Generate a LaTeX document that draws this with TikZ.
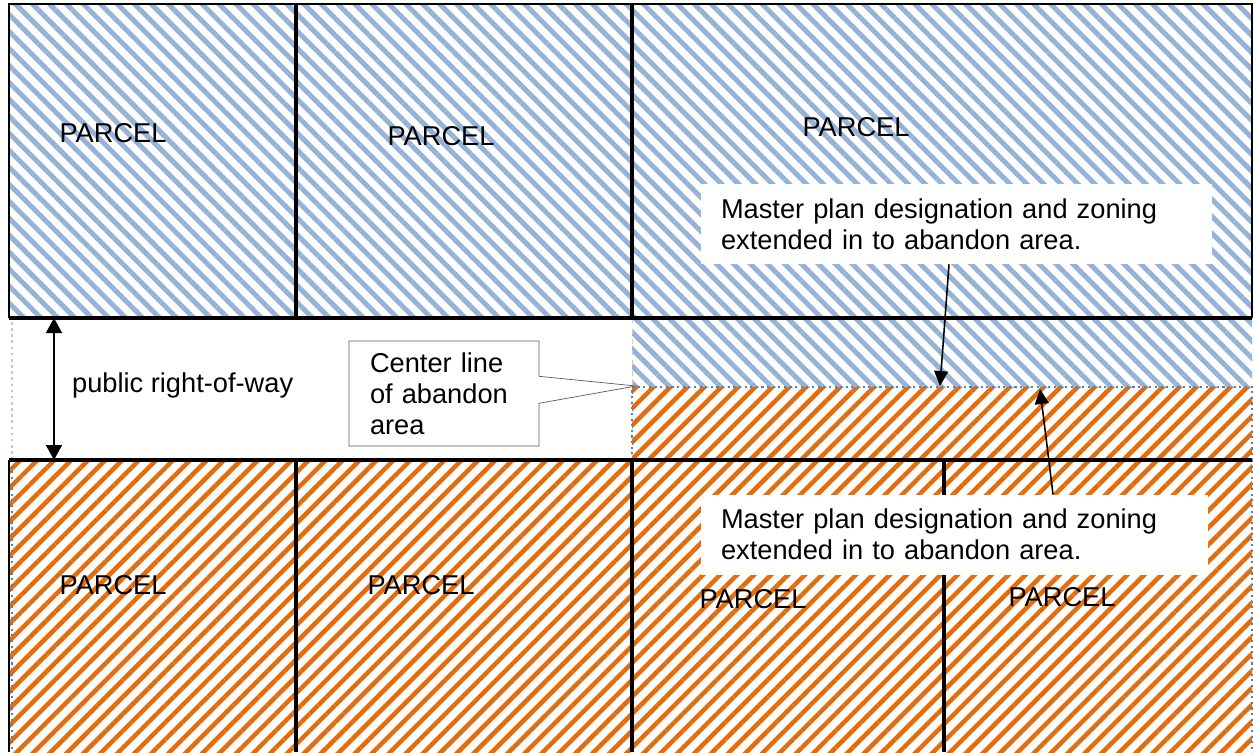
\documentclass[tikz,border=0pt]{standalone}
\usepackage{fontspec}
\setmainfont{Liberation Sans}
\usetikzlibrary{positioning,patterns.meta,shapes.callouts,arrows.meta}

\definecolor{zoneblue}{RGB}{149,179,215}
\definecolor{zoneorange}{RGB}{228,108,10}
\definecolor{dotblue}{RGB}{79,129,189}
\definecolor{calloutgray}{RGB}{90,90,90}
\newcommand{\plantext}{\fontsize{15.5pt}{17.6pt}\selectfont}

\begin{document}
\begin{tikzpicture}[x=0.02cm, y=-0.02cm,
    bluezone/.style={pattern={Lines[angle=-45,distance=0.24cm,line width=0.1cm]}, pattern color=zoneblue},
    orangezone/.style={pattern={Lines[angle=45,distance=0.24cm,line width=0.09cm]}, pattern color=zoneorange},
    lotline/.style={line width=2.2pt},
    edgeline/.style={line width=0.9pt},
    dotline/.style={dotted, line width=1.2pt, dotblue},
    parcel/.style={font=\plantext},
    note/.style={fill=white, font=\plantext, align=left, inner xsep=0.4cm, minimum height=1.6cm, text width=9.42cm},
    callnote/.style={rectangle callout, draw=calloutgray, fill=white, font=\plantext, align=left, inner xsep=0.42cm, minimum width=3.8cm, minimum height=2.1cm, text width=2.96cm, callout pointer width=0.54cm},
    pointer/.style={line width=0.9pt, -{Triangle[length=0.3cm, width=0.28cm]}}
  ]
    \useasboundingbox (0,0) rectangle (1254,752);

    % Zoned areas
    \fill[bluezone] (9,4) rectangle (1252,318);
    \fill[bluezone] (632,318) rectangle (1252,387);
    \fill[orangezone] (632,387) rectangle (1252,460);
    \fill[orangezone] (9,460) rectangle (1252,752);

    % Abandon area edges
    \draw[dotline] (632,460) -- (632,387) -- (1252,387) -- (1252,460);
    \draw[dotline] (12,460) -- (12,752);
    \draw[dotline] (1252,460) -- (1252,752);
    \draw[gray!45, dotted, line width=1.5pt] (12,322) -- (12,458);
    \draw[gray!40, dashed, thin] (632,318) -- (632,387);

    % Lot lines
    \draw[edgeline] (9,318) -- (9,4) -- (1252,4) -- (1252,318);
    \draw[edgeline] (9,460) -- (9,752);
    \draw[lotline] (9,318) -- (1252,318);
    \draw[lotline] (9,460) -- (1252,460);
    \foreach \x in {296,632} \draw[lotline] (\x,4) -- (\x,318);
    \foreach \x in {296,632,944} \draw[lotline] (\x,460) -- (\x,752);

    % Parcels
    \node[parcel] (lotNA) at (113,133) {PARCEL};
    \node[parcel] (lotNB) at (441,136) {PARCEL};
    \node[parcel] (lotNC) at (856,127) {PARCEL};
    \node[parcel] (lotSA) at (113,585) {PARCEL};
    \node[parcel] (lotSB) at (421,585) {PARCEL};
    \node[parcel] (lotSC) at (753,599) {PARCEL};
    \node[parcel] (lotSD) at (1062,597) {PARCEL};

    % Right-of-way
    \coordinate (rowN) at (54,318);
    \coordinate (rowS) at (54,460);
    \draw[line width=0.9pt, {Triangle[length=0.3cm, width=0.32cm]}-{Triangle[length=0.3cm, width=0.32cm]}] (rowN) -- (rowS);
    \node[parcel, anchor=west] (row) at (66,385) {public right-of-way};

    % Center line
    \coordinate (center) at (636,386);
    \node[callnote, callout absolute pointer={(center)}] (cline) at (444,393.5) {Center line\\of abandon\\area};

    % Designation notes
    \node[note] (planN) at (956.5,224) {Master plan designation and zoning\\extended in to abandon area.};
    \node[note, text width=9.34cm] (planS) at (954.5,534.5) {Master plan designation and zoning\\extended in to abandon area.};
    \coordinate (lineN) at (940,386);
    \coordinate (lineS) at (1040,389);
    \draw[pointer] ([xshift=-0.15cm]planN.south) -- (lineN);
    \draw[pointer] ([xshift=1.97cm]planS.north) -- (lineS);
  \end{tikzpicture}
\end{document}
